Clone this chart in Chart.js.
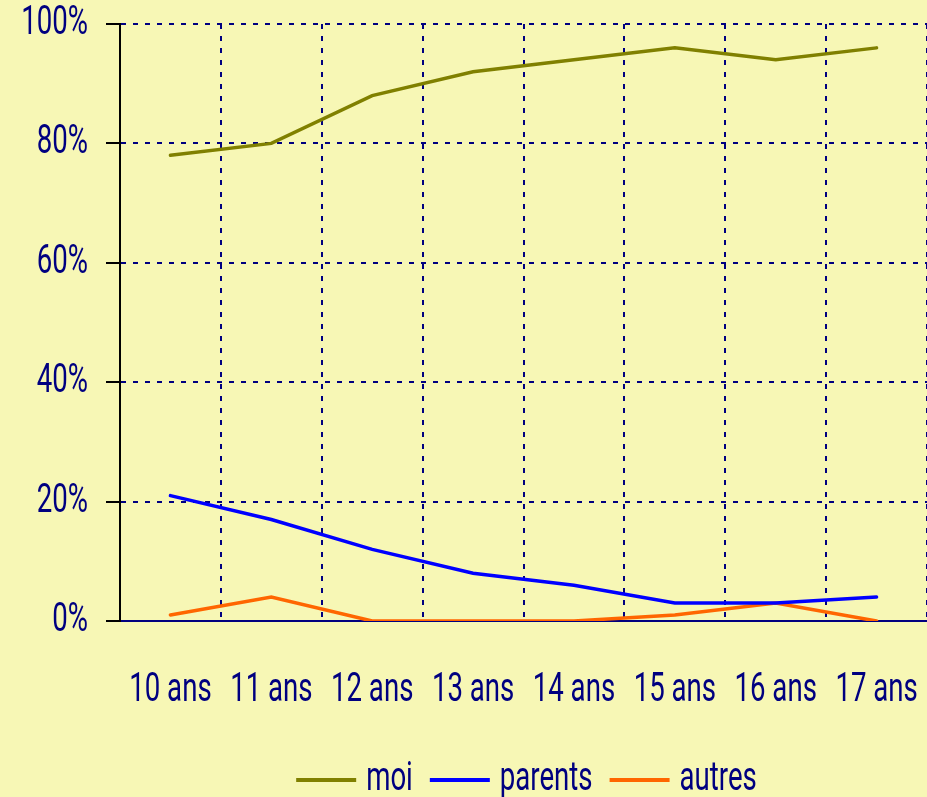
<!DOCTYPE html>
<html>
<head>
<meta charset="utf-8">
<script src="https://cdn.jsdelivr.net/npm/chart.js@4/dist/chart.umd.min.js"></script>
<style>
  html, body { margin: 0; padding: 0; background: #F7F7B5; overflow: hidden; }
  #wrap { width: 927px; height: 797px; }
</style>
</head>
<body>
<div id="wrap"><canvas id="c" width="927" height="797"></canvas></div>
<script>
const categories = ["10 ans", "11 ans", "12 ans", "13 ans", "14 ans", "15 ans", "16 ans", "17 ans"];
const seriesNames = ["moi", "parents", "autres"];
const moi = [78, 80, 88, 92, 94, 96, 94, 96];
const parents = [21, 17, 12, 8, 6, 3, 3, 4];
const autres = [1, 4, 0, 0, 0, 1, 3, 0];
const yTicks = [0, 20, 40, 60, 80, 100];

const NAVY = '#000080';
const FONT = "Roboto, 'Liberation Sans', sans-serif";
const FSIZE = 40;

// Condensed text: real text drawn with a horizontal squeeze
const SX = 0.69;
const LEGEND_GAP_FIX = 10;
const legendTexts = new Set(seriesNames);
(function () {
  const proto = CanvasRenderingContext2D.prototype;
  const origFill = proto.fillText;
  const origMeasure = proto.measureText;
  proto.fillText = function (t, x, y, mw) {
    if (legendTexts.has(t)) x -= LEGEND_GAP_FIX;
    this.save();
    this.translate(x, y);
    this.scale(SX, 1);
    origFill.call(this, t, 0, 0);
    this.restore();
  };
  proto.measureText = function (t) {
    const m = origMeasure.call(this, t);
    let w = m.width * SX;
    if (legendTexts.has(t)) w -= LEGEND_GAP_FIX;
    return {
      width: w,
      actualBoundingBoxAscent: m.actualBoundingBoxAscent,
      actualBoundingBoxDescent: m.actualBoundingBoxDescent,
      actualBoundingBoxLeft: m.actualBoundingBoxLeft * SX,
      actualBoundingBoxRight: m.actualBoundingBoxRight * SX
    };
  };
})();

const bgPlugin = {
  id: 'bg',
  beforeDraw(chart) {
    const ctx = chart.ctx;
    ctx.save();
    ctx.fillStyle = '#F7F7B5';
    ctx.fillRect(0, 0, chart.width, chart.height);
    ctx.restore();
  }
};

const legendShift = {
  id: 'legendShift',
  afterLayout(chart) {
    if (chart.legend) {
      chart.legend.left += 63;
      chart.legend.right += 63;
    }
  }
};

function ds(label, data, color) {
  return {
    label, data,
    borderColor: color, backgroundColor: color,
    borderWidth: 3.5, pointRadius: 0, tension: 0, fill: false,
    borderCapStyle: 'round'
  };
}

new Chart(document.getElementById('c'), {
  type: 'line',
  data: {
    labels: categories,
    datasets: [
      ds(seriesNames[0], moi, '#808000'),
      ds(seriesNames[1], parents, '#0000FF'),
      ds(seriesNames[2], autres, '#FF6600')
    ]
  },
  options: {
    responsive: false,
    animation: false,
    layout: { padding: { left: 0, right: 0, top: 0, bottom: -13 } },
    plugins: {
      tooltip: { enabled: false },
      legend: {
        position: 'bottom',
        labels: {
          color: NAVY,
          font: { family: FONT, size: FSIZE },
          boxWidth: 60,
          boxHeight: 4,
          padding: 17,
          generateLabels(chart) {
            return chart.data.datasets.map((d, i) => ({
              text: d.label,
              fillStyle: d.borderColor,
              strokeStyle: d.borderColor,
              lineWidth: 0,
              fontColor: NAVY,
              datasetIndex: i,
              hidden: false
            }));
          }
        }
      }
    },
    scales: {
      x: {
        offset: true,
        grid: {
          offset: true,
          color: NAVY,
          lineWidth: 2,
          drawTicks: false
        },
        border: { display: true, color: NAVY, width: 2, dash: [5, 7] },
        ticks: {
          color: NAVY,
          font: { family: FONT, size: FSIZE },
          padding: 46,
          maxRotation: 0,
          autoSkip: false
        },
        afterFit(scale) {
          scale.height = 122;
          scale.paddingLeft = 0;
          scale.paddingRight = 0;
        }
      },
      y: {
        min: 0, max: 100,
        afterBuildTicks(scale) { scale.ticks = yTicks.map(v => ({ value: v })); },
        grid: {
          color: NAVY,
          lineWidth: 2,
          drawTicks: true,
          tickLength: 14,
          tickColor: '#000000',
          tickWidth: 2
        },
        border: { display: true, color: '#000000', width: 2, dash: [5, 7] },
        ticks: {
          color: NAVY,
          font: { family: FONT, size: FSIZE },
          padding: 18,
          callback: v => v + '%'
        },
        afterFit(scale) {
          scale.width = 120;
          scale.paddingTop = 24;
          scale.paddingBottom = 0;
        }
      }
    }
  },
  plugins: [bgPlugin, legendShift]
});
</script>
</body>
</html>
